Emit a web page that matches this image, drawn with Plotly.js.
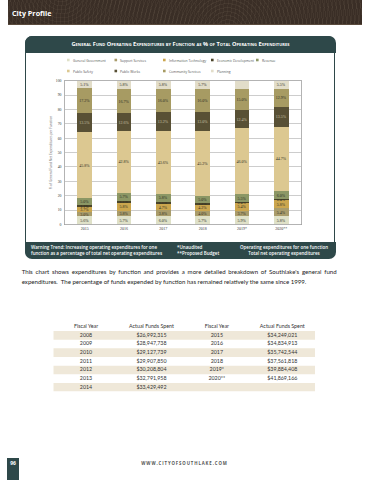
<!DOCTYPE html>
<html><head><meta charset="utf-8">
<script src="https://cdn.plot.ly/plotly-3.0.1.min.js"></script>
<style>
html,body{margin:0;padding:0;background:#fff;width:370px;height:480px;overflow:hidden;position:relative;}
.abs{position:absolute;}
#hdr{left:8px;top:0;width:354px;height:24px;background:#3a2e26;
 background-image:repeating-radial-gradient(circle at 62% 130%, rgba(255,255,255,0) 0 3px, rgba(255,235,200,0.05) 3px 4px),
 repeating-radial-gradient(circle at 15% -40%, rgba(255,255,255,0) 0 3px, rgba(255,235,200,0.04) 3px 4px);
 border-bottom:1px solid #5a4a3c;}
#hdrtxt{left:12px;top:8px;font:bold 7.2px "Open Sans",sans-serif;color:#fff;white-space:nowrap;}
#box{left:25px;top:35.5px;width:308px;height:220.5px;border:1.5px solid #2e4849;border-radius:7px;}
#tband{left:25px;top:35.5px;width:311px;height:17px;background:#2e4849;border-radius:7px 7px 0 0;}
#ttxt{left:25px;top:40px;width:311px;text-align:center;font:bold 5.6px "Open Sans",sans-serif;font-variant:small-caps;color:#fff;white-space:nowrap;letter-spacing:0.05px;}
#bband{left:25px;top:241.5px;width:311px;height:17.5px;background:#2e4849;border-radius:0 0 7px 7px;}
.bt{font:600 4.5px "Open Sans",sans-serif;color:#fff;white-space:nowrap;line-height:6px;}
#para1,#para2{left:21.7px;width:315px;font:6.1px Lato,sans-serif;color:#222;white-space:nowrap;}
#para1{top:268px;text-align:justify;text-align-last:justify;white-space:normal;}
#para2{top:277.5px;}
#pg{left:7px;top:458px;width:12px;height:22px;background:#2e4849;}
#pgt{left:7px;top:460px;width:12px;text-align:center;font:bold 5px "Open Sans",sans-serif;color:#fff;}
#url{left:100px;top:460px;width:169px;text-align:center;font:bold 4.3px "Open Sans",sans-serif;color:#555;letter-spacing:0.9px;}
#chart{left:0;top:0;width:370px;height:480px;z-index:2;}
</style></head><body>
<div id="hdr" class="abs"></div>
<div id="hdrtxt" class="abs">City Profile</div>
<div id="box" class="abs"></div>
<div id="tband" class="abs"></div>
<div id="ttxt" class="abs">General Fund Operating Expenditures by Function as % of Total Operating Expenditures</div>
<div id="bband" class="abs"></div>
<div class="abs bt" style="left:31px;top:244px;">Warning Trend: Increasing operating expenditures for one<br>function as a percentage of total net operating expenditures</div>
<div class="abs bt" style="left:177px;top:244px;">*Unaudited<br>**Proposed Budget</div>
<div class="abs bt" style="left:232px;top:244px;width:104px;text-align:center;">Operating expenditures for one function<br>Total net operating expenditures</div>
<div id="para1" class="abs">This chart shows expenditures by function and provides a more detailed breakdown of Southlake's general fund</div>
<div id="para2" class="abs">expenditures.&nbsp; The percentage of funds expended by function has remained relatively the same since 1999.</div>
<div id="pg" class="abs"></div>
<div id="pgt" class="abs">96</div>
<div id="url" class="abs">WWW.CITYOFSOUTHLAKE.COM</div>
<div id="chart" class="abs"></div>
<script>
// ---- data ----
const years = ['2015','2016','2017','2018','2019*','2020**'];
const seriesNames = ['General Government','Support Services','Information Technology','Economic Development','Revenue',
                     'Public Safety','Public Works','Community Services','Planning'];
const seriesColors = ['#dfe1c8','#a99c6b','#cba64e','#4a4429','#8c9765','#dcc891','#585035','#a79b63','#e2ddc9'];
const generalGovernment     = [5.6, 5.7, 6.0, 5.7, 5.9, 5.8];
const supportServices       = [3.0, 3.8, 3.8, 4.0, 3.7, 5.4];
const informationTechnology = [3.7, 5.8, 4.7, 4.2, 5.4, 5.8];
const economicDevelopment   = [1.1, 1.1, 1.1, 1.2, 0.4, 0.4];
const revenue               = [5.0, 5.7, 5.8, 5.0, 5.5, 6.0];
const publicSafety          = [45.8, 42.8, 43.6, 45.2, 46.0, 44.7];
const publicWorks           = [13.5, 12.6, 13.2, 13.0, 12.4, 13.5];
const communityServices     = [17.2, 16.7, 16.0, 16.0, 15.0, 12.9];
const planning              = [5.1, 5.8, 5.8, 5.7, 5.7, 5.5];
const yTickVals = [0,10,20,30,40,50,60,70,80,90,100];

const fiscalYearsA = ['2008','2009','2010','2011','2012','2013','2014'];
const fundsSpentA  = ['$26,992,315','$28,947,738','$29,127,739','$29,907,850','$30,208,804','$32,791,958','$33,429,492'];
const fiscalYearsB = ['2015','2016','2017','2018','2019*','2020**'];
const fundsSpentB  = ['$34,249,021','$34,834,913','$35,742,544','$37,561,818','$39,884,408','$41,869,166'];
const tableHeader  = ['Fiscal Year','Actual Funds Spent','Fiscal Year','Actual Funds Spent'];

// ---- helpers ----
const W = 370, H = 480;
const px = x => x / W;
const py = y => 1 - y / H;

const seriesValues = [generalGovernment, supportServices, informationTechnology, economicDevelopment, revenue,
                      publicSafety, publicWorks, communityServices, planning];

const traces = seriesValues.map((vals, i) => ({
  type: 'bar', name: seriesNames[i], x: years, y: vals,
  marker: {color: seriesColors[i], line: {width: 0}},
  texttemplate: '%{y:.1f}%', textposition: 'inside', insidetextanchor: 'middle', textangle: 0,
  insidetextfont: {family: 'Liberation Serif, serif', size: 4, color: (i === 6 ? '#c9c2a6' : '#2b2b24')},
  hoverinfo: 'skip', showlegend: false, cliponaxis: false
}));

const shapes = [], annotations = [];

// ---- table drawn on its own axes ----
const tableCols = [fiscalYearsA, fundsSpentA, fiscalYearsB, fundsSpentB];
fiscalYearsA.forEach((_, r) => {
  if (r % 2 === 0) {
    shapes.push({type: 'rect', xref: 'x3', yref: 'y3', x0: -0.5, x1: tableHeader.length - 0.5,
                 y0: r + 0.5, y1: r + 1.5, fillcolor: '#efe8d9', line: {width: 0}, layer: 'below'});
  }
});
tableCols.forEach((col, c) => {
  traces.push({
    type: 'scatter', mode: 'text', xaxis: 'x3', yaxis: 'y3',
    x: [c].concat(col.map(() => c)), y: [0].concat(col.map((_, r) => r + 1)),
    text: [tableHeader[c]].concat(col), textposition: 'middle center',
    textfont: {family: 'Lato, sans-serif', size: 5.3, color: '#333'},
    hoverinfo: 'skip', showlegend: false, cliponaxis: false
  });
});

// legend (built from names/colours)
const legX = [67, 114.5, 163, 211, 256];
const legY = [60, 71];
seriesNames.forEach((n, i) => {
  const row = i < 5 ? 0 : 1, col = i < 5 ? i : i - 5;
  const x0 = legX[col], yc = legY[row];
  shapes.push({type: 'rect', xref: 'paper', yref: 'paper', x0: px(x0), x1: px(x0 + 2.6),
               y0: py(yc + 1.3), y1: py(yc - 1.3), fillcolor: seriesColors[i], line: {width: 0}});
  annotations.push({xref: 'paper', yref: 'paper', x: px(x0 + 3.6), y: py(yc), xanchor: 'left', yanchor: 'middle',
                    text: n, showarrow: false, font: {family: 'Open Sans, sans-serif', size: 3.35, color: '#555'}});
});

const layout = {
  width: W, height: H, margin: {l: 0, r: 0, t: 0, b: 0},
  paper_bgcolor: 'rgba(0,0,0,0)', plot_bgcolor: 'rgba(0,0,0,0)',
  barmode: 'stack', bargap: 0.62, showlegend: false,
  uniformtext: {mode: 'show', minsize: 4},
  xaxis: {domain: [px(65), px(301)], type: 'category', showgrid: false,
          showline: true, mirror: true, linecolor: '#a0a0a0', linewidth: 0.8,
          tickfont: {family: 'Liberation Serif, serif', size: 4, color: '#333'}, ticks: '', fixedrange: true},
  yaxis: {domain: [py(224.5), py(80.7)], range: [0, 100], tickvals: yTickVals, ticksuffix: '%',
          showgrid: true, gridcolor: '#b8b8b8', gridwidth: 0.7, zeroline: false,
          showline: true, mirror: true, linecolor: '#a0a0a0', linewidth: 0.8,
          ticks: '', ticklabelstandoff: 2,
          tickfont: {family: 'Liberation Serif, serif', size: 3.8, color: '#333'},
          title: {text: '% of General Fund Net Expenditures per Function', standoff: 3,
                  font: {family: 'Open Sans, sans-serif', size: 3.2, color: '#666'}}, fixedrange: true},
  xaxis3: {domain: [px(53.3), px(315)], range: [-0.5, 3.5], visible: false, anchor: 'y3', fixedrange: true},
  yaxis3: {domain: [py(391.6), py(322.4)], range: [7.5, -0.5], visible: false, anchor: 'x3', fixedrange: true},
  shapes: shapes, annotations: annotations
};

Plotly.newPlot('chart', traces, layout, {displayModeBar: false, staticPlot: true});
</script>
</body></html>
